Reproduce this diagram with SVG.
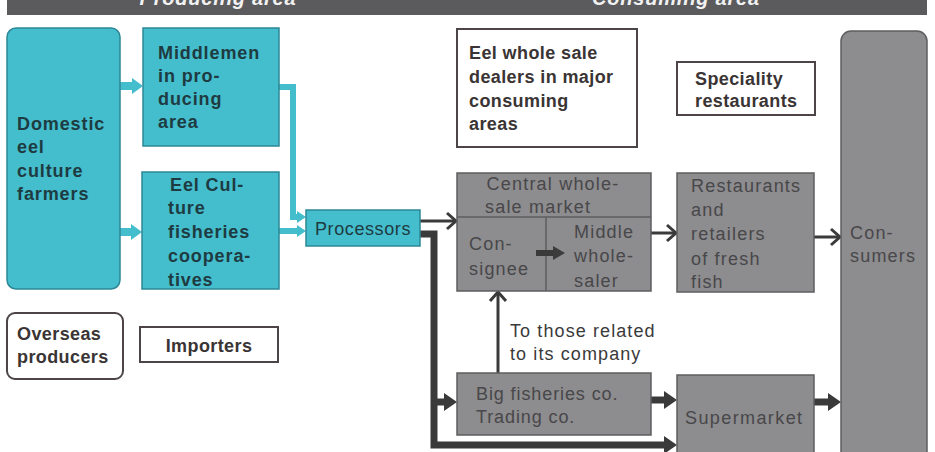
<svg xmlns="http://www.w3.org/2000/svg" width="935" height="452" viewBox="0 0 935 452">
  <style>
    text { font-family: "Liberation Sans", Arial, sans-serif; }
    .hd { font-size: 20px; font-weight: bold; font-style: italic; fill: #f2f2f2; letter-spacing: 0.8px; }
    .cy { fill: #44bdcd; stroke: #2c8896; stroke-width: 1.5; }
    .gr { fill: #8d8c8e; stroke: #5e5d5f; stroke-width: 1.5; }
    .wh { fill: #ffffff; stroke: #4d4545; stroke-width: 2; }
    .tc { font-size: 18px; font-weight: bold; fill: #1e3b41; letter-spacing: 0.9px; }
    .tw { font-size: 18px; font-weight: bold; fill: #3a3434; letter-spacing: 0.4px; }
    .tg { font-size: 18px; fill: #48474a; letter-spacing: 1.2px; }
    .tl { font-size: 18px; fill: #3a3a3a; letter-spacing: 1.1px; }
    .cyl { fill: none; stroke: #44bdcd; }
    .dkl { fill: none; stroke: #3a3a3a; }
  </style>
  <defs>
    <marker id="cyHead" markerUnits="userSpaceOnUse" markerWidth="14" markerHeight="18" refX="0" refY="8" orient="auto" overflow="visible">
      <path d="M0,0 L11,8 L0,16 Z" fill="#44bdcd"/>
    </marker>
    <marker id="cyHeadS" markerUnits="userSpaceOnUse" markerWidth="12" markerHeight="14" refX="0" refY="6" orient="auto" overflow="visible">
      <path d="M0,0 L9,6 L0,12 Z" fill="#44bdcd"/>
    </marker>
    <marker id="dkHead" markerUnits="userSpaceOnUse" markerWidth="16" markerHeight="20" refX="0" refY="9" orient="auto" overflow="visible">
      <path d="M0,0 L13,9 L0,18 Z" fill="#3a3a3a"/>
    </marker>
    <marker id="dkHeadS" markerUnits="userSpaceOnUse" markerWidth="16" markerHeight="16" refX="0" refY="7" orient="auto" overflow="visible">
      <path d="M0,0 L12,7 L0,14 Z" fill="#3c3c3c"/>
    </marker>
    <marker id="chev" markerUnits="userSpaceOnUse" markerWidth="14" markerHeight="20" refX="10" refY="8" orient="auto" overflow="visible">
      <path d="M1,0 L10,8 L1,16" fill="none" stroke="#3a3a3a" stroke-width="3"/>
    </marker>
  </defs>

  <!-- header band; its captions sit partly above the top edge -->
  <g id="header">
    <rect x="7" y="0" width="920" height="15" fill="#5b5b5d"/>
    <text class="hd" x="218" y="5" text-anchor="middle">Producing area</text>
    <text class="hd" x="676" y="5" text-anchor="middle">Consuming area</text>
  </g>

  <!-- connectors -->
  <g id="connectors">
    <path class="cyl" stroke-width="8" d="M120,86 H132" marker-end="url(#cyHead)"/>
    <path class="cyl" stroke-width="8" d="M120,232 H131" marker-end="url(#cyHead)"/>
    <path class="cyl" stroke-width="6" d="M279,87 H293 V217 H297" marker-end="url(#cyHeadS)"/>
    <path class="cyl" stroke-width="6" d="M279,231 H297" marker-end="url(#cyHeadS)"/>
    <path class="dkl" stroke-width="3" d="M420,221 H456" marker-end="url(#chev)"/>
    <path class="dkl" stroke-width="7" d="M420,234 H434 V445 H664" marker-end="url(#dkHead)"/>
    <path class="dkl" stroke-width="7" d="M434,402 H444" marker-end="url(#dkHead)"/>
    <path class="dkl" stroke-width="7" d="M651,400 H664" marker-end="url(#dkHead)"/>
    <path class="dkl" stroke-width="7" d="M814,402 H828" marker-end="url(#dkHead)"/>
    <path class="dkl" stroke-width="3" d="M498,373 V292" marker-end="url(#chev)"/>
    <path class="dkl" stroke-width="3" d="M651,233 H676" marker-end="url(#chev)"/>
    <path class="dkl" stroke-width="3" d="M814,237 H840" marker-end="url(#chev)"/>
  </g>

  <g id="domestic-farmers">
    <rect class="cy" x="7" y="28" width="113" height="261" rx="9"/>
    <text class="tc" x="17" y="130">Domestic</text>
    <text class="tc" x="17" y="153">eel</text>
    <text class="tc" x="17" y="177">culture</text>
    <text class="tc" x="17" y="200">farmers</text>
  </g>

  <g id="middlemen">
    <rect class="cy" x="143" y="28" width="136" height="118"/>
    <text class="tc" x="158" y="59">Middlemen</text>
    <text class="tc" x="158" y="82">in pro-</text>
    <text class="tc" x="158" y="105">ducing</text>
    <text class="tc" x="158" y="128">area</text>
  </g>

  <g id="cooperatives">
    <rect class="cy" x="142" y="172" width="137" height="117"/>
    <text class="tc" x="170" y="191">Eel Cul-</text>
    <text class="tc" x="168" y="214">ture</text>
    <text class="tc" x="168" y="238">fisheries</text>
    <text class="tc" x="168" y="262">coopera-</text>
    <text class="tc" x="168" y="286">tives</text>
  </g>

  <g id="processors">
    <rect class="cy" x="306" y="210" width="114" height="36"/>
    <text class="tc" x="363" y="235" text-anchor="middle" style="font-weight:normal;letter-spacing:0.6px">Processors</text>
  </g>

  <g id="overseas-producers">
    <rect class="wh" x="7" y="313" width="116" height="66" rx="8"/>
    <text class="tw" x="17" y="340">Overseas</text>
    <text class="tw" x="17" y="363">producers</text>
  </g>

  <g id="importers">
    <rect class="wh" x="140" y="327" width="138" height="35"/>
    <text class="tw" x="209" y="352" text-anchor="middle">Importers</text>
  </g>

  <g id="eel-wholesale-dealers">
    <rect class="wh" x="457" y="29" width="180" height="118"/>
    <text class="tw" x="469" y="59">Eel whole sale</text>
    <text class="tw" x="469" y="83">dealers in major</text>
    <text class="tw" x="469" y="107">consuming</text>
    <text class="tw" x="469" y="130">areas</text>
  </g>

  <g id="speciality-restaurants">
    <rect class="wh" x="677" y="62" width="138" height="53"/>
    <text class="tw" x="695" y="85">Speciality</text>
    <text class="tw" x="695" y="107">restaurants</text>
  </g>

  <g id="central-market">
    <rect class="gr" x="457" y="173" width="194" height="118"/>
    <line x1="457" y1="217" x2="651" y2="217" stroke="#5e5d5f" stroke-width="1.5"/>
    <line x1="546" y1="217" x2="546" y2="291" stroke="#5e5d5f" stroke-width="1.5"/>
    <text class="tg" x="553" y="190" text-anchor="middle">Central whole-</text>
    <text class="tg" x="485" y="213">sale market</text>
    <text class="tg" x="469" y="250">Con-</text>
    <text class="tg" x="469" y="275">signee</text>
    <text class="tg" x="574" y="238">Middle</text>
    <text class="tg" x="574" y="262">whole-</text>
    <text class="tg" x="574" y="287">saler</text>
    <path class="dkl" stroke-width="6" d="M536,253 H553" marker-end="url(#dkHeadS)"/>
  </g>

  <g id="restaurants-retailers">
    <rect class="gr" x="677" y="173" width="137" height="119"/>
    <text class="tg" x="691" y="192">Restaurants</text>
    <text class="tg" x="691" y="216">and</text>
    <text class="tg" x="691" y="240">retailers</text>
    <text class="tg" x="691" y="265">of fresh</text>
    <text class="tg" x="691" y="288">fish</text>
  </g>

  <g id="consumers">
    <rect class="gr" x="841" y="31" width="86" height="440" rx="10"/>
    <text class="tg" x="850" y="239">Con-</text>
    <text class="tg" x="850" y="262">sumers</text>
  </g>

  <g id="big-fisheries">
    <rect class="gr" x="457" y="373" width="194" height="62"/>
    <text class="tg" x="476" y="400" style="letter-spacing:0.9px">Big fisheries co.</text>
    <text class="tg" x="476" y="423" style="letter-spacing:0.9px">Trading co.</text>
  </g>

  <g id="supermarket">
    <rect class="gr" x="677" y="375" width="137" height="90"/>
    <text class="tg" x="685" y="424" style="letter-spacing:1.4px">Supermarket</text>
  </g>

  <g id="related-note">
    <text class="tl" x="510" y="337">To those related</text>
    <text class="tl" x="510" y="360">to its company</text>
  </g>
</svg>
